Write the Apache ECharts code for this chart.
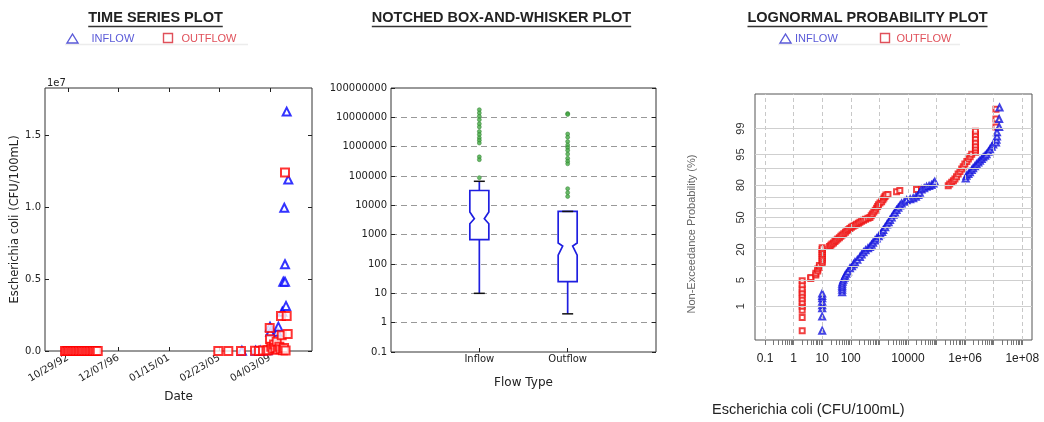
<!DOCTYPE html>
<html><head><meta charset="utf-8">
<script src="https://cdn.jsdelivr.net/npm/echarts@6/dist/echarts.min.js"></script>
<style>html,body{margin:0;padding:0;background:#fff}#c{width:1044px;height:422px}</style>
</head><body><div id="c"></div>
<script>
// ================= DATA =================
// Time series (date, E. coli CFU/100mL)
const tsTickDates = ['1992-10-29','1996-12-07','2001-01-15','2005-02-23','2009-04-03'];
const tsInflow = [
 ['2006-12-20',10000],['2008-02-01',15000],['2008-06-15',25000],['2009-01-15',60000],
 ['2009-04-03',1690000],['2009-04-10',1340000],['2009-06-01',350000],['2009-08-15',500000],
 ['2009-11-05',1340000],['2009-12-06',1690000],['2010-01-20',200000],['2010-04-03',2730000],
 ['2010-05-02',4810000],['2010-06-01',9950000],['2010-06-22',4810000],['2010-06-22',6020000],
 ['2010-07-22',3130000],['2010-08-11',16620000],['2010-09-28',11900000]
];
const tsOutflow = [
 ['1992-08-01',2000],['1992-09-15',1500],['1992-11-01',3000],['1992-12-15',800],['1993-02-01',2500],
 ['1993-03-20',1200],['1993-05-05',4000],['1993-06-20',900],['1993-08-05',3500],['1993-09-20',1800],
 ['1993-11-05',2200],['1993-12-20',600],['1994-02-05',3000],['1994-03-25',1400],['1994-05-10',5000],
 ['1994-06-25',2000],['1994-08-10',1000],['1994-09-25',2600],['1994-11-10',700],['1994-12-25',3200],
 ['1995-02-10',1600],['1995-04-01',2400],
 ['2005-01-18',3000],['2005-11-11',2000],['2006-11-23',5000],['2008-01-14',20000],['2008-05-10',8000],
 ['2008-09-07',40000],['2008-12-20',30000],['2009-02-10',60000],['2009-03-25',1600000],['2009-04-03',810000],
 ['2009-05-10',300000],['2009-06-20',150000],['2009-08-01',450000],['2009-09-10',200000],['2009-10-18',650000],
 ['2009-11-20',90000],['2010-01-05',300000],['2010-02-10',120000],['2010-02-23',2430000],['2010-03-16',1100000],
 ['2010-04-20',60000],['2010-05-25',200000],['2010-06-22',12400000],['2010-07-10',40000],
 ['2010-08-11',2430000],['2010-09-10',1180000]
];
// Notched box plot: [whiskerLow, q1, notchLow, median, notchHigh, q3, whiskerHigh]
const boxCategories = ['Inflow','Outflow'];
const boxInflow  = [10, 680, 2350, 3500, 5900, 32000, 66000];
const boxOutflow = [2, 25, 200, 410, 520, 6200, 6200];
const boxInflowOutliers = [18200000,14100000,10800000,8300000,6000000,4700000,3300000,2600000,2000000,1660000,1330000,450000,360000,88000];
const boxOutflowOutliers = [13500000,12500000,2700000,2100000,1500000,1140000,930000,750000,560000,400000,320000,260000,37000,27000,20000];
// Lognormal probability plot: [value, non-exceedance %]
const probInflow = [
 [10,0.15],[10,0.47],[10,0.87],[10,1.07],[10,1.36],[10,1.7],[10,1.97],[10,2.33],
 [50,2.5],[50,2.9],[50,3.3],[50,3.7],[50,4.1],[52,4.6],[55,5.1],[60,5.7],[63,6.3],[70,7],[80,7.8],[93,9.1],
 [110,10],[125,11],[140,12],[170,13.3],[209,15],[240,16.5],[280,18],[330,19.5],[400,21],[468,22],[530,23.7],
 [600,25.3],[700,27.2],[804,29],[950,31],[1100,33],[1250,35],[1370,37],[1600,39.8],[1850,42.5],[2100,45],
 [2350,47.2],[2700,50],[3100,52.7],[3500,55.2],[4000,57.6],[4600,60],[5300,62.3],[6000,64.3],[7500,66],
 [9000,67.4],[12000,68.3],[15300,69.1],[19000,70.5],[23000,72],[26000,74],[30000,76.8],[37000,77.8],
 [45000,78.8],[55000,79.5],[67000,80.1],[78000,81.2],[87000,82.4],
 [1050000,84.6],[1120000,86.2],[1300000,87.2],[1470000,88.1],[1700000,89.2],[1900000,90.1],[2200000,91],
 [2500000,91.8],[2900000,92.5],[3300000,93.1],[3800000,93.7],[4300000,94.2],[5000000,94.7],[5600000,95.1],
 [6500000,95.7],[7400000,96.3],[8500000,96.8],[9600000,97.2],
 [12000000,97.5],[12500000,97.9],[13000000,98.3],[13000000,98.7],[15500000,99.1],[15500000,99.5],[16000000,99.8]
];
const probOutflow = [
 [2,0.15],[2,0.44],[2,0.75],[2,1.0],[2,1.3],[2,1.66],[2,2.07],[2,2.5],[2,3.07],[2,3.9],[2,4.85],
 [4,5.5],[4,5.8],[6,6.6],[6,7.2],[7,8.0],[7,8.8],[8,9.6],[8,10.4],
 [10,11.5],[10,12.5],[10,13.6],[10,14.8],[10,16],[10,17.3],[10,18.6],[10,20],[10,21.4],
 [18,22.2],[20,23.2],[22,24.2],[25,25.2],[28,26.3],[31,27.4],[35,28.5],[40,29.7],[45,31],[50,32.2],
 [57,33.5],[65,34.8],[73,36.2],[82,37.4],[93,38.6],
 [105,39.8],[120,40.8],[140,41.8],[160,42.8],[185,43.8],[209,45],[240,46],[280,47],[330,48],[400,49],[468,50],
 [520,51.8],[570,53.5],[640,55.5],[720,57.5],[800,59.5],[870,61.3],[930,63],[1050,64.7],[1200,66],
 [1330,67.8],[1450,69.5],[1575,70.8],[1700,72],[2000,72.5],
 [4000,74.9],[5200,76],[20000,76.8],[30000,77.2],
 [257000,79.7],[290000,80.9],[340000,82.1],[390000,83.2],[440000,84.2],[500000,85.7],[570000,87.2],
 [660000,88.5],[760000,89.7],[860000,90.8],[980000,91.9],[1150000,92.8],[1300000,93.7],[1500000,94.4],[1700000,95.1],
 [2300000,95.6],[2300000,96.1],[2300000,96.6],[2300000,97.1],[2300000,97.6],[2300000,98.1],[2300000,98.5],[2300000,98.8],
 [12000000,99.1],[12000000,99.5],[12000000,99.77]
];
const probTickLabels = [1,5,20,50,80,95,99];
const probGridLines = [1,5,10,20,30,40,50,60,70,80,90,95,99];
const xLogLabels = ['0.1','1','10','100','10000','1e+06','1e+08'];
const xLogDecades = [-1,0,1,2,3,4,5,6,7,8];

// ================= HELPERS =================
function probit(p){
 const a=[-3.969683028665376e+01,2.209460984245205e+02,-2.759285104469687e+02,1.383577518672690e+02,-3.066479806614716e+01,2.506628277459239e+00];
 const b=[-5.447609879822406e+01,1.615858368580409e+02,-1.556989798598866e+02,6.680131188771972e+01,-1.328068155288572e+01];
 const c=[-7.784894002430293e-03,-3.223964580411365e-01,-2.400758277161838e+00,-2.549732539343734e+00,4.374664141464968e+00,2.938163982698783e+00];
 const d=[7.784695709041462e-03,3.224671290700398e-01,2.445134137142996e+00,3.754408661907416e+00];
 const pl=0.02425, ph=1-pl; let q,r;
 if(p<pl){q=Math.sqrt(-2*Math.log(p));return (((((c[0]*q+c[1])*q+c[2])*q+c[3])*q+c[4])*q+c[5])/((((d[0]*q+d[1])*q+d[2])*q+d[3])*q+1);}
 if(p<=ph){q=p-0.5;r=q*q;return (((((a[0]*r+a[1])*r+a[2])*r+a[3])*r+a[4])*r+a[5])*q/(((((b[0]*r+b[1])*r+b[2])*r+b[3])*r+b[4])*r+1);}
 q=Math.sqrt(-2*Math.log(1-p));return -(((((c[0]*q+c[1])*q+c[2])*q+c[3])*q+c[4])*q+c[5])/((((d[0]*q+d[1])*q+d[2])*q+d[3])*q+1);
}
const ms = s => Date.parse(s);
const pad = n => String(n).padStart(2,'0');
const fmtDate = v => { const d=new Date(v); return pad(d.getUTCMonth()+1)+'/'+pad(d.getUTCDate())+'/'+pad(d.getUTCFullYear()%100); };
const ctx = document.createElement('canvas').getContext('2d');
const textW = (t,f) => { ctx.font=f; return ctx.measureText(t).width; };

const MPL = '"DejaVu Sans", sans-serif';
const RF = '"Liberation Sans", Arial, sans-serif';
const tsTicks = tsTickDates.map(ms);
const probTickZ = probTickLabels.map(p => probit(p/100));
const xLogPos = xLogLabels.map(s => Math.log10(parseFloat(s)));
const minorTicks = [];
for (let dd=-1; dd<=8; dd++) for (let k=1; k<=9; k++) { const v=dd+Math.log10(k); if (v>=-1 && v<=8) minorTicks.push(v); }

// notched box renderer
function renderBox(params, api){
 const x = api.value(0);
 const v = [1,2,3,4,5,6,7].map(i => api.value(i));
 const [wl,q1,nl,med,nh,q3,wh] = v;
 const cx = api.coord([x, q1])[0];
 const y = val => api.coord([x, val])[1];
 const hw = 9.5, nw = 5;
 const poly = [[cx-hw,y(q1)],[cx-hw,y(nl)],[cx-nw,y(med)],[cx-hw,y(nh)],[cx-hw,y(q3)],
               [cx+hw,y(q3)],[cx+hw,y(nh)],[cx+nw,y(med)],[cx+hw,y(nl)],[cx+hw,y(q1)]];
 const blue = {stroke:'#1f1fe0', lineWidth:1.7, fill:null};
 return {type:'group', children:[
  {type:'line', shape:{x1:cx,y1:y(q3),x2:cx,y2:y(wh)}, style:blue},
  {type:'line', shape:{x1:cx,y1:y(q1),x2:cx,y2:y(wl)}, style:blue},
  {type:'polygon', shape:{points:poly}, style:{stroke:'#1f1fe0', lineWidth:1.7, fill:'#fff'}},
  {type:'line', shape:{x1:cx-5.5,y1:y(wh),x2:cx+5.5,y2:y(wh)}, style:{stroke:'#111',lineWidth:1.5}},
  {type:'line', shape:{x1:cx-5.5,y1:y(wl),x2:cx+5.5,y2:y(wl)}, style:{stroke:'#111',lineWidth:1.5}}
 ]};
}

// ================= GRAPHICS (titles, legends) =================
const titleFont = 'bold 14.5px ' + RF;
function titleEls(t, cx){
 const w = textW(t, titleFont);
 return [
  {type:'text', x:cx, y:18, style:{text:t, font:titleFont, fill:'#222', align:'center', verticalAlign:'middle'}},
  {type:'line', shape:{x1:cx-w/2, y1:26.5, x2:cx+w/2, y2:26.5}, style:{stroke:'#333', lineWidth:1.3}}
 ];
}
const legFont = '11px ' + RF;
function legendEls(triX, inX, sqX, outX, lineX1, lineX2){
 return [
  {type:'line', shape:{x1:lineX1,y1:44.5,x2:lineX2,y2:44.5}, style:{stroke:'#ececec', lineWidth:1.5}},
  {type:'polygon', shape:{points:[[triX-5.5,43],[triX+5.5,43],[triX,34]]}, style:{fill:null, stroke:'#5a5ad8', lineWidth:1.4}},
  {type:'text', x:inX, y:39, style:{text:'INFLOW', font:legFont, fill:'#5a5ad8', align:'left', verticalAlign:'middle'}},
  {type:'rect', shape:{x:sqX, y:33.5, width:9, height:9}, style:{fill:null, stroke:'#e0505a', lineWidth:1.4}},
  {type:'text', x:outX, y:39, style:{text:'OUTFLOW', font:legFont, fill:'#e0505a', align:'left', verticalAlign:'middle'}}
 ];
}
const graphics = [].concat(
 titleEls('TIME SERIES PLOT', 155.5),
 titleEls('NOTCHED BOX-AND-WHISKER PLOT', 501.5),
 titleEls('LOGNORMAL PROBABILITY PLOT', 867.5),
 legendEls(72.5, 91.5, 163.5, 181.5, 65, 248),
 legendEls(785.5, 795, 880.5, 896.5, 778, 960),
 [
  {type:'text', x:47, y:83, style:{text:'1e7', font:'10px '+MPL, fill:'#222', align:'left', verticalAlign:'middle'}},
  {type:'text', x:692, y:234, rotation:Math.PI/2, style:{text:'Non-Exceedance Probability (%)', font:'11px '+RF, fill:'#666', align:'center', verticalAlign:'middle'}},
  {type:'text', x:712, y:410, style:{text:'Escherichia coli (CFU/100mL)', font:'14.5px '+RF, fill:'#222', align:'left', verticalAlign:'middle'}}
 ]
);

// ================= OPTION =================
const tickStyle = {show:true, inside:true, length:4, lineStyle:{color:'#222', width:1}};
const noLine = {show:false, onZero:false};
const option = {
 animation:false,
 backgroundColor:'#fff',
 graphic:{elements:graphics},
 grid:[
  {left:45, top:88, width:267, height:263, show:true, borderColor:'#333', borderWidth:1, backgroundColor:'transparent', outerBoundsMode:'none', containLabel:false},
  {left:391, top:88, width:265, height:264, show:true, borderColor:'#333', borderWidth:1, backgroundColor:'transparent', outerBoundsMode:'none', containLabel:false},
  {left:755, top:94, width:277, height:246, show:true, borderColor:'#555', borderWidth:1, backgroundColor:'transparent', outerBoundsMode:'none', containLabel:false}
 ],
 xAxis:[
  {type:'value', gridIndex:0, min:ms('1990-12-16'), max:ms('2012-09-01'),
   axisLine:noLine, splitLine:{show:false},
   axisTick:Object.assign({customValues:tsTicks}, tickStyle),
   axisLabel:{customValues:tsTicks, formatter:fmtDate, rotate:30, margin:6, fontSize:10, fontFamily:MPL, color:'#222'},
   name:'Date', nameLocation:'middle', nameGap:40, nameTextStyle:{fontSize:12, fontFamily:MPL, color:'#222'}},
  {type:'value', gridIndex:0, position:'top', min:ms('1990-12-16'), max:ms('2012-09-01'),
   axisLine:noLine, splitLine:{show:false}, axisLabel:{show:false},
   axisTick:Object.assign({customValues:tsTicks}, tickStyle)},
  {type:'value', gridIndex:1, min:0, max:3, interval:1,
   axisLine:noLine, splitLine:{show:false},
   axisTick:Object.assign({customValues:[1,2]}, tickStyle),
   axisLabel:{customValues:[1,2], formatter:v => boxCategories[Math.round(v)-1] || '', margin:2, fontSize:10, fontFamily:MPL, color:'#222'},
   name:'Flow Type', nameLocation:'middle', nameGap:25, nameTextStyle:{fontSize:12, fontFamily:MPL, color:'#222'}},
  {type:'value', gridIndex:2, min:-1.35, max:8.34,
   axisLine:noLine, splitLine:{show:false},
   axisTick:{show:true, inside:false, length:5, customValues:minorTicks, lineStyle:{color:'#777', width:1}},
   axisLabel:{customValues:xLogPos, formatter:v => { const i = xLogPos.findIndex(p => Math.abs(p-v)<1e-6); return i>=0 ? xLogLabels[i] : ''; },
              margin:13, fontSize:12, fontFamily:RF, color:'#222'}}
 ],
 yAxis:[
  {type:'value', gridIndex:0, min:0, max:18260000,
   axisLine:noLine, splitLine:{show:false},
   axisTick:Object.assign({customValues:[0,5e6,1e7,1.5e7]}, tickStyle),
   axisLabel:{customValues:[0,5e6,1e7,1.5e7], formatter:v => (v/1e7).toFixed(1), margin:4, fontSize:10, fontFamily:MPL, color:'#222'},
   name:'Escherichia coli (CFU/100mL)', nameLocation:'middle', nameGap:20, nameTextStyle:{fontSize:11.5, fontFamily:MPL, color:'#222'}},
  {type:'value', gridIndex:0, position:'right', min:0, max:18260000,
   axisLine:noLine, splitLine:{show:false}, axisLabel:{show:false},
   axisTick:Object.assign({customValues:[0,5e6,1e7,1.5e7]}, tickStyle)},
  {type:'log', logBase:10, gridIndex:1, min:0.1, max:1e8,
   axisLine:noLine,
   splitLine:{show:true, lineStyle:{color:'#999', type:[6,4], width:1}},
   axisTick:tickStyle,
   axisLabel:{formatter:v => v < 1 ? String(+v.toFixed(1)) : String(Math.round(v)), margin:4, fontSize:10, fontFamily:MPL, color:'#222'}},
  {type:'log', logBase:10, gridIndex:1, position:'right', min:0.1, max:1e8,
   axisLine:noLine, splitLine:{show:false}, axisLabel:{show:false}, axisTick:tickStyle},
  {type:'value', gridIndex:2, min:-3.21, max:3.23,
   axisLine:noLine, splitLine:{show:false}, axisTick:{show:false},
   axisLabel:{customValues:probTickZ, rotate:90, margin:9, fontSize:11, fontFamily:RF, color:'#333',
              formatter:v => { const i = probTickZ.findIndex(z => Math.abs(z-v)<1e-6); return i>=0 ? String(probTickLabels[i]) : ''; }}}
 ],
 series:[
  // Time series
  {type:'scatter', xAxisIndex:0, yAxisIndex:0, symbol:'emptyTriangle', symbolSize:8,
   itemStyle:{color:'#0000ff', borderWidth:2}, data:tsInflow.map(d => [ms(d[0]), d[1]]), z:3},
  {type:'scatter', xAxisIndex:0, yAxisIndex:0, symbol:'emptyRect', symbolSize:8,
   itemStyle:{color:'#ff0000', borderWidth:2}, data:tsOutflow.map(d => [ms(d[0]), d[1]]), z:4},
  // Box plot
  {type:'custom', xAxisIndex:2, yAxisIndex:2, renderItem:renderBox, encode:{x:0, y:[1,2,3,4,5,6,7]},
   data:[[1].concat(boxInflow), [2].concat(boxOutflow)], z:3},
  {type:'scatter', xAxisIndex:2, yAxisIndex:2, symbol:'circle', symbolSize:4,
   itemStyle:{color:'#44aa44', borderColor:'#2a7a2a', borderWidth:0.6},
   data:boxInflowOutliers.map(v => [1, v]).concat(boxOutflowOutliers.map(v => [2, v])), z:4},
  // Probability plot gridlines
  {type:'scatter', xAxisIndex:3, yAxisIndex:4, data:[], z:1, silent:true,
   markLine:{silent:true, symbol:['none','none'], label:{show:false}, animation:false,
    lineStyle:{color:'#c8c8c8', type:[4,3], width:1},
    data:xLogDecades.map(d => ({xAxis:d}))}},
  {type:'scatter', xAxisIndex:3, yAxisIndex:4, data:[], z:1, silent:true,
   markLine:{silent:true, symbol:['none','none'], label:{show:false}, animation:false,
    lineStyle:{color:'#cfcfcf', type:'solid', width:1},
    data:probGridLines.map(p => ({yAxis:probit(p/100)}))}},
  // Probability plot points
  {type:'scatter', xAxisIndex:3, yAxisIndex:4, symbol:'emptyRect', symbolSize:5,
   itemStyle:{color:'#ee1111', borderWidth:1.1}, data:probOutflow.map(d => [Math.log10(d[0]), probit(d[1]/100)]), z:3},
  {type:'scatter', xAxisIndex:3, yAxisIndex:4, symbol:'emptyTriangle', symbolSize:6,
   itemStyle:{color:'#1515dd', borderWidth:1.1}, data:probInflow.map(d => [Math.log10(d[0]), probit(d[1]/100)]), z:4}
 ]
};
const chart = echarts.init(document.getElementById('c'), null, {renderer:'canvas', width:1044, height:422});
chart.setOption(option);
</script>
</body></html>
